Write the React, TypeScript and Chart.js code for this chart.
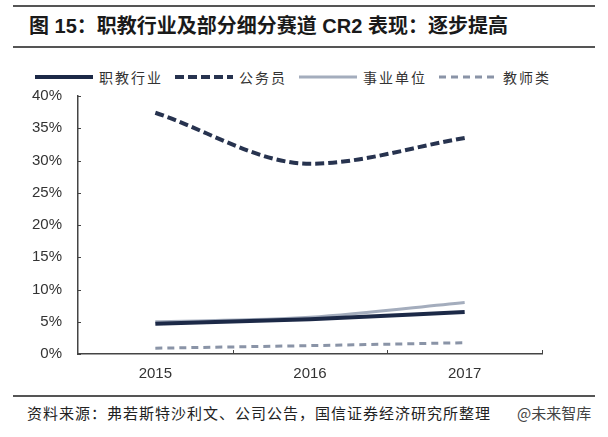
import { useEffect, useRef } from 'react';
import Chart from 'chart.js/auto';

const years = ['2015', '2016', '2017'];
const vocational = [4.7, 5.4, 6.5];
const civilServant = [37.4, 29.5, 33.5];
const publicInstitution = [5.0, 5.7, 8.0];
const teacher = [0.9, 1.3, 1.75];
const yTicks = [0, 5, 10, 15, 20, 25, 30, 35, 40];

const seriesNames = ['职教行业', '公务员', '事业单位', '教师类'];
const seriesColors = ['#1c2947', '#27334f', '#a4adbd', '#8a94a7'];
const seriesWidths = [4, 4, 3, 3];
const seriesDashes: number[][] = [[], [9, 4], [], [7, 5]];

// small tick marks on the inside of both axes
const axisTicks = {
  id: 'axisTicks',
  afterDraw(chart: any) {
    const { ctx } = chart;
    const x = chart.scales.x;
    const y = chart.scales.y;
    ctx.save();
    ctx.strokeStyle = '#444';
    ctx.lineWidth = 1;
    ctx.beginPath();
    for (let i = 1; i <= years.length; i++) {
      const px = Math.round(x.getPixelForValue(i - 0.5)) + 0.5;
      ctx.moveTo(px, y.bottom);
      ctx.lineTo(px, y.bottom - 4);
    }
    yTicks.forEach(v => {
      const py = Math.round(y.getPixelForValue(v)) + 0.5;
      ctx.moveTo(x.left, py);
      ctx.lineTo(x.left + 3, py);
    });
    ctx.stroke();
    ctx.restore();
  }
};

export default function App() {
  const chartRef = useRef<HTMLCanvasElement>(null);
  const chartInstance = useRef<Chart | null>(null);

  useEffect(() => {
    document.body.style.margin = '0';
    if (!chartRef.current) return;
    if (chartInstance.current) chartInstance.current.destroy();
    const ctx = chartRef.current.getContext('2d');
    if (!ctx) return;

    const values = [vocational, civilServant, publicInstitution, teacher];

    chartInstance.current = new Chart(ctx, {
      type: 'line',
      data: {
        labels: years,
        datasets: values.map((data, i) => ({
          label: seriesNames[i],
          data,
          borderColor: seriesColors[i],
          borderWidth: seriesWidths[i],
          borderDash: seriesDashes[i],
          pointRadius: 0,
          cubicInterpolationMode: 'monotone' as const
        }))
      },
      options: {
        animation: false,
        responsive: true,
        maintainAspectRatio: false,
        layout: { padding: { left: 0, right: 66, top: 6, bottom: 0 } },
        scales: {
          x: {
            offset: true,
            grid: { display: false, drawTicks: false },
            border: { color: '#444', width: 1.5 },
            ticks: {
              padding: 11,
              color: '#333',
              font: { family: 'Liberation Sans', size: 15 }
            },
            afterFit: (scale: any) => { scale.height = 30; }
          },
          y: {
            min: 0,
            max: 40,
            grid: { display: false, drawTicks: false },
            border: { color: '#444', width: 1.5 },
            ticks: {
              stepSize: 5,
              padding: 16,
              color: '#333',
              font: { family: 'Liberation Sans', size: 15 },
              callback: (value: any) => value + '%'
            },
            afterFit: (scale: any) => { scale.width = 78; }
          }
        },
        plugins: {
          legend: { display: false },
          tooltip: { enabled: false }
        }
      },
      plugins: [axisTicks]
    });

    return () => {
      if (chartInstance.current) {
        chartInstance.current.destroy();
        chartInstance.current = null;
      }
    };
  }, []);

  const rule = (top: number) => (
    <div style={{ position: 'absolute', left: 13, top, width: 582, height: 2, background: '#555' }} />
  );

  return (
    <div style={{ position: 'relative', width: 608, height: 437, background: '#fff', overflow: 'hidden' }}>
      {rule(5)}
      <div
        style={{
          position: 'absolute',
          left: 29,
          top: 14,
          fontFamily: '"Liberation Sans", "Noto Sans CJK SC", sans-serif',
          fontWeight: 'bold',
          fontSize: 20,
          lineHeight: '24px',
          color: '#1a1a1a',
          whiteSpace: 'nowrap'
        }}
      >
        图 15：职教行业及部分细分赛道 CR2 表现：逐步提高
      </div>
      {rule(46)}

      {/* legend */}
      <div
        style={{
          position: 'absolute',
          left: 35,
          top: 67,
          height: 20,
          display: 'flex',
          alignItems: 'center',
          fontFamily: '"Noto Sans CJK SC", sans-serif',
          fontSize: 14,
          letterSpacing: 2,
          color: '#333',
          whiteSpace: 'nowrap'
        }}
      >
        {seriesNames.map((name, i) => (
          <div key={name} style={{ display: 'flex', alignItems: 'center', marginRight: 12 }}>
            <svg width={58} height={8} style={{ display: 'block' }}>
              <line
                x1={0}
                y1={4}
                x2={58}
                y2={4}
                stroke={seriesColors[i]}
                strokeWidth={seriesWidths[i]}
                strokeDasharray={seriesDashes[i].length ? seriesDashes[i].join(' ') : undefined}
              />
            </svg>
            <span style={{ marginLeft: 6 }}>{name}</span>
          </div>
        ))}
      </div>

      <div style={{ position: 'absolute', left: 0, top: 71, width: 608, height: 313 }}>
        <canvas ref={chartRef} />
      </div>
      {rule(395)}
      <div
        style={{
          position: 'absolute',
          left: 27,
          top: 403,
          fontFamily: '"Noto Sans CJK SC", sans-serif',
          fontSize: 15,
          lineHeight: '20px',
          letterSpacing: 1,
          color: '#222',
          whiteSpace: 'nowrap'
        }}
      >
        资料来源：弗若斯特沙利文、公司公告，国信证券经济研究所整理
      </div>
      <div
        style={{
          position: 'absolute',
          left: 517,
          top: 403,
          fontFamily: '"Noto Sans CJK SC", sans-serif',
          fontSize: 15,
          lineHeight: '20px',
          color: '#444',
          whiteSpace: 'nowrap'
        }}
      >
        @未来智库
      </div>
    </div>
  );
}
